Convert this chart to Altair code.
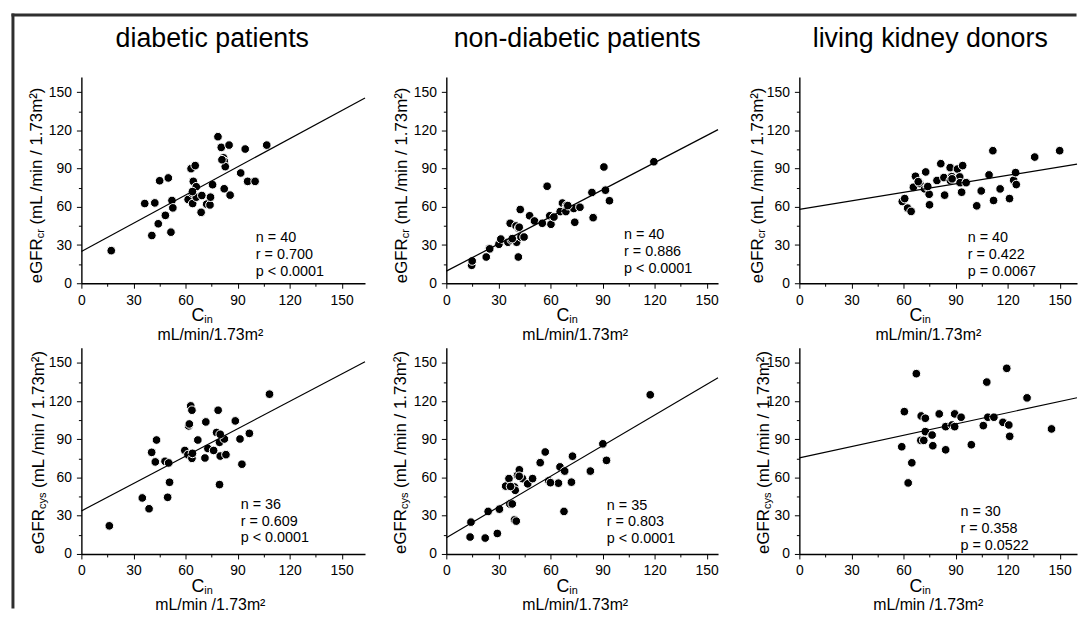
import altair as alt
import pandas as pd

FONT = "Liberation Sans"
INK = "#000000"

# ---------------- values ----------------
group_titles = ["diabetic patients", "non-diabetic patients", "living kidney donors"]
tick_values = [0, 30, 60, 90, 120, 150]
minor_values = [15, 45, 75, 105, 135]

diab_cr_cin = [17.2, 36.5, 42.3, 40.6, 45.1, 50.1, 44.3, 48.4, 51.6, 52.2, 52.7, 61.5, 63.2, 65.6,
               64.5, 63.8, 66.2, 64.1, 66.2, 69.4, 69.0, 72.2, 74.1, 74.4, 75.6, 78.7, 80.6, 85.1,
               81.9, 82.3, 82.9, 82.3, 85.7, 91.8, 94.4, 95.8, 100.1, 106.8, 81.0, 64.0]
diab_cr_egfr = [25.6, 62.6, 63.1, 37.5, 80.5, 82.7, 46.7, 53.3, 40.1, 65.0, 59.2, 65.8, 90.0, 92.4,
                80.0, 70.8, 75.8, 62.6, 67.6, 68.9, 55.7, 62.1, 61.5, 67.6, 77.4, 115.1, 106.7, 108.5,
                98.5, 95.9, 91.6, 74.2, 69.2, 86.6, 105.4, 80.0, 80.0, 108.5, 97.0, 72.0]

nond_cr_cin = [14.6, 14.9, 23.0, 24.7, 30.3, 31.4, 35.5, 37.5, 36.8, 40.2, 40.5, 41.5, 41.7, 42.6,
               43.0, 44.8, 48.0, 50.8, 55.3, 58.1, 59.6, 60.3, 65.6, 66.9, 69.3, 68.9, 73.4, 77.0,
               74.0, 83.9, 84.6, 90.8, 91.7, 94.0, 119.6, 42.0, 62.0, 70.0, 25.0, 38.0]
nond_cr_egfr = [14.1, 17.5, 20.6, 27.3, 30.6, 34.7, 32.2, 34.0, 47.1, 45.0, 32.2, 20.6, 43.2, 57.9,
                36.3, 36.3, 53.0, 48.9, 47.1, 76.2, 53.0, 46.3, 56.3, 63.0, 61.2, 56.3, 58.7, 59.7,
                47.9, 71.3, 51.5, 91.3, 73.1, 64.8, 95.4, 44.0, 52.0, 61.0, 27.0, 35.0]

donor_cr_cin = [59.3, 60.7, 62.4, 64.4, 65.7, 66.9, 69.4, 68.5, 72.2, 72.8, 73.7, 74.8, 75.0, 79.3,
                81.5, 83.3, 83.7, 86.9, 87.8, 87.0, 91.1, 92.4, 92.6, 94.1, 93.5, 96.1, 102.2, 104.8,
                109.3, 111.5, 111.9, 115.7, 121.1, 123.5, 124.6, 125.0, 135.6, 150.0, 88.0, 74.0]
donor_cr_egfr = [64.2, 66.5, 59.0, 56.4, 75.4, 84.0, 78.3, 79.8, 74.1, 87.4, 75.7, 69.9, 61.6, 80.7,
                 93.9, 83.0, 69.2, 90.8, 83.7, 80.7, 89.7, 83.5, 79.0, 92.4, 71.5, 79.0, 60.8, 72.5,
                 85.1, 104.1, 65.0, 74.1, 66.5, 80.9, 86.9, 77.5, 99.1, 104.1, 82.0, 76.0]

diab_cys_cin = [16.1, 35.1, 39.0, 40.5, 42.6, 43.3, 48.2, 50.3, 49.7, 50.8, 59.6, 61.4, 61.8, 62.2,
                63.0, 63.7, 63.7, 67.1, 71.7, 71.2, 72.9, 76.2, 77.9, 78.8, 79.6, 80.0, 79.6, 82.4,
                83.3, 88.7, 91.4, 92.5, 96.8, 108.4, 64.0, 80.0]
diab_cys_egfr = [22.1, 44.0, 35.5, 79.8, 72.3, 89.5, 72.8, 71.5, 44.5, 56.3, 81.3, 78.0, 100.6, 102.1,
                 116.3, 112.9, 75.1, 89.5, 103.7, 75.4, 82.8, 81.3, 95.4, 112.9, 87.7, 76.9, 54.5, 90.3,
                 78.0, 104.5, 90.3, 70.5, 94.7, 125.5, 79.0, 94.0]

nond_cys_cin = [13.7, 14.2, 22.4, 24.1, 29.4, 30.6, 34.2, 36.1, 36.6, 38.0, 39.3, 39.7, 39.3, 40.3,
                41.0, 42.1, 43.9, 46.9, 49.7, 54.1, 57.0, 59.0, 64.6, 65.5, 68.2, 67.8, 72.1, 72.7,
                83.0, 90.2, 92.3, 117.5, 42.0, 60.0, 37.0]
nond_cys_egfr = [13.3, 25.0, 12.5, 33.4, 16.1, 35.2, 53.3, 59.2, 39.3, 39.3, 52.6, 50.0, 26.8, 25.8,
                 61.7, 66.1, 59.2, 55.1, 59.2, 71.7, 80.1, 57.4, 55.6, 68.4, 65.1, 33.4, 56.4, 76.8,
                 65.1, 86.5, 73.5, 125.0, 61.0, 56.0, 53.0]

donor_cys_cin = [59.0, 60.5, 62.7, 64.8, 67.4, 70.2, 70.0, 71.7, 72.6, 72.6, 76.5, 76.9, 80.6, 84.3,
                 84.3, 89.5, 88.0, 89.5, 93.2, 99.1, 106.0, 108.6, 108.0, 112.1, 117.3, 119.5, 120.7,
                 121.2, 131.2, 145.3]
donor_cys_egfr = [84.2, 111.8, 55.8, 71.6, 141.6, 108.4, 89.2, 89.2, 106.6, 96.1, 93.4, 85.0, 110.0,
                  100.0, 81.8, 110.0, 101.3, 100.0, 107.4, 85.8, 100.8, 107.4, 135.0, 107.4, 103.4,
                  145.8, 101.3, 92.4, 122.6, 98.2]

# regression lines as drawn (intercept at Cin = 0, slope)
reg_intercept = [25.0, 9.5, 58.0, 33.8, 12.8, 75.5]
reg_slope = [0.7375, 0.710, 0.2225, 0.717, 0.8025, 0.295]

stats_n = ["n = 40", "n = 40", "n = 40", "n = 36", "n = 35", "n = 30"]
stats_r = ["r = 0.700", "r = 0.886", "r = 0.422", "r = 0.609", "r = 0.803", "r = 0.358"]
stats_p = ["p < 0.0001", "p < 0.0001", "p = 0.0067", "p < 0.0001", "p < 0.0001", "p = 0.0522"]

y_subscripts = ["cr", "cr", "cr", "cys", "cys", "cys"]
unit_labels = ["mL/min/1.73m\u00b2", "mL/min/1.73m\u00b2", "mL/min/1.73m\u00b2",
               "mL/min /1.73m\u00b2", "mL/min/1.73m\u00b2", "mL/min /1.73m\u00b2"]

series_x = [diab_cr_cin, nond_cr_cin, donor_cr_cin, diab_cys_cin, nond_cys_cin, donor_cys_cin]
series_y = [diab_cr_egfr, nond_cr_egfr, donor_cr_egfr, diab_cys_egfr, nond_cys_egfr, donor_cys_egfr]

# ---------------- layout ----------------
PX_PER_UNIT = 1.75
COL_WIDTHS = [286, 274, 280]
H = 208
Y_MAX = 162
LINE_STEP = 13.2  # stats line spacing in y units (~17 px)
stats_anchor = [(100.5, 22.2), (102.4, 24.6), (97.0, 22.0), (91.8, 25.4), (92.5, 24.7), (92.8, 19.5)]
ytitle_x = [-45, -45, -42, -43, -46, -36]


def txt(s, size, **kw):
    return alt.Chart(pd.DataFrame({"t": [s]})).mark_text(
        font=FONT, fontSize=size, color=INK, **kw)


def panel(i):
    W = COL_WIDTHS[i % 3]
    xmax = W / PX_PER_UNIT
    xs = alt.Scale(domain=[0, xmax], nice=False, zero=False)
    ys = alt.Scale(domain=[0, Y_MAX], nice=False, zero=False)
    major = dict(values=tick_values, title=None, grid=False, tickSize=5, tickWidth=1,
                 tickColor=INK, domainColor=INK, domainWidth=1.4, labelFont=FONT,
                 labelFontSize=14, labelColor=INK, labelPadding=5, labelFlush=False)
    minor = dict(values=minor_values, title=None, grid=False, tickSize=3, tickWidth=1,
                 tickColor=INK, domain=False, labels=False)

    df = pd.DataFrame({"cin": series_x[i], "egfr": series_y[i]})
    pts = alt.Chart(df).mark_point(shape="circle", filled=True, fill=INK, stroke="white",
                                   strokeWidth=1, opacity=1, size=76).encode(
        x=alt.X("cin:Q", scale=xs, axis=alt.Axis(orient="bottom", **major)),
        y=alt.Y("egfr:Q", scale=ys, axis=alt.Axis(orient="left", **major)),
    )

    ldf = pd.DataFrame({"cin": [0.0, xmax],
                        "egfr": [reg_intercept[i], reg_intercept[i] + reg_slope[i] * xmax]})
    line = alt.Chart(ldf).mark_line(color=INK, strokeWidth=1.2).encode(
        x=alt.X("cin:Q", scale=xs, axis=alt.Axis(orient="bottom", **minor)),
        y=alt.Y("egfr:Q", scale=ys, axis=alt.Axis(orient="left", **minor)),
    )

    sx, sy = stats_anchor[i]
    sdf = pd.DataFrame({"cin": [sx, sx, sx],
                        "egfr": [sy + LINE_STEP, sy, sy - LINE_STEP],
                        "t": [stats_n[i], stats_r[i], stats_p[i]]})
    stats = alt.Chart(sdf).mark_text(font=FONT, fontSize=14.5, color=INK, align="left",
                                     baseline="middle").encode(
        x=alt.X("cin:Q", scale=xs, axis=None),
        y=alt.Y("egfr:Q", scale=ys, axis=None),
        text="t:N",
    )

    layers = [pts, line, stats]

    # y-axis title: eGFR + subscript + units (rotated)
    yx = ytitle_x[i]
    wA = 2.667 * 17
    wB = (0.833 if y_subscripts[i] == "cr" else 1.5) * 11
    wS = 0.278 * 17
    layers.append(txt("eGFR", 17, angle=270, align="left", baseline="middle").encode(
        text="t:N", x=alt.value(yx), y=alt.value(H)))
    layers.append(txt(y_subscripts[i], 11, angle=270, align="left", baseline="middle").encode(
        text="t:N", x=alt.value(yx + 4), y=alt.value(H - wA)))
    layers.append(txt("(mL /min / 1.73m\u00b2)", 17, angle=270, align="left", baseline="middle").encode(
        text="t:N", x=alt.value(yx), y=alt.value(H - wA - wB - wS)))

    # x-axis title: C + subscript in, units below
    xc = 122
    layers.append(txt("C", 18, align="center", baseline="middle").encode(
        text="t:N", x=alt.value(xc - 4.5), y=alt.value(H + 33)))
    layers.append(txt("in", 11, align="left", baseline="middle").encode(
        text="t:N", x=alt.value(xc + 2), y=alt.value(H + 37)))
    layers.append(txt(unit_labels[i], 16, align="center", baseline="middle").encode(
        text="t:N", x=alt.value(130), y=alt.value(H + 52)))

    if i < 3:
        layers.append(txt(group_titles[i], 27, align="center", baseline="alphabetic").encode(
            text="t:N", x=alt.value(132), y=alt.value(-30)))

    if i == 0:
        one = pd.DataFrame({"k": [0]})
        layers.append(alt.Chart(one).mark_rule(color="#2f2f2f", strokeWidth=3).encode(
            x=alt.value(-70.5), x2=alt.value(1003.5), y=alt.value(-62.5)))
        layers.append(alt.Chart(one).mark_rule(color="#2f2f2f", strokeWidth=3).encode(
            x=alt.value(-69), y=alt.value(-64), y2=alt.value(536)))

    return alt.layer(*layers).resolve_axis(x="independent", y="independent").properties(
        width=W, height=H)


chart = alt.concat(*[panel(i) for i in range(6)], columns=3,
                   spacing={"row": 65, "column": 82}, bounds="flush").properties(
    padding={"left": 2, "top": 1, "right": 0, "bottom": 0},
    background="white",
).configure_view(stroke=None).configure_axis(grid=False)

chart.save("out.html", embed_options={"renderer": "svg", "actions": False})
